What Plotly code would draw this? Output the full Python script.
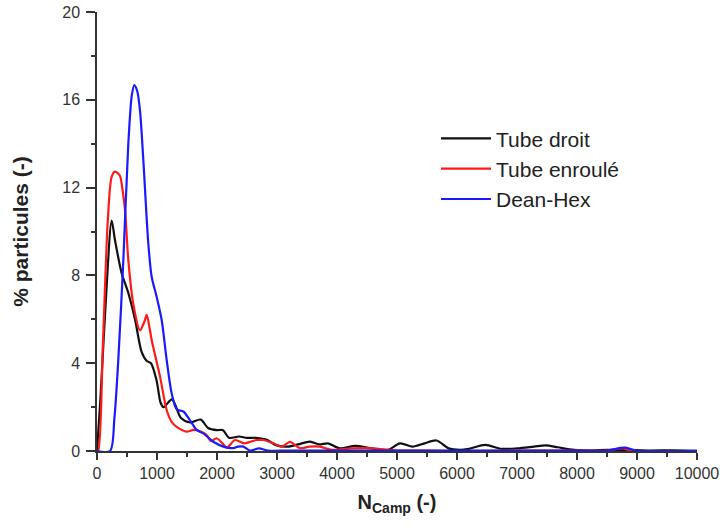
import plotly.graph_objects as go

# --- data ---
black_x = [0, 60, 150, 245, 300, 411, 522, 633, 745, 830, 900, 994, 1060, 1110, 1250, 1400,
           1550, 1730, 1850, 2000, 2100, 2200, 2367, 2500, 2650, 2840, 2970, 3170, 3350, 3550,
           3700, 3850, 4050, 4300, 4580, 4850, 5050, 5260, 5460, 5660, 5860, 6050, 6200, 6470,
           6740, 7000, 7280, 7480, 7680, 7950, 8200, 8500, 8800, 9200, 9600, 10000]
black_y = [0, 2.5, 7.0, 10.5, 9.6, 8.1, 7.2, 6.0, 4.5, 4.1, 4.0, 3.2, 2.2, 2.0, 2.35, 1.5,
           1.3, 1.43, 1.05, 0.95, 0.95, 0.6, 0.66, 0.6, 0.6, 0.5, 0.28, 0.2, 0.3, 0.43,
           0.3, 0.35, 0.12, 0.23, 0.12, 0.05, 0.35, 0.2, 0.35, 0.48, 0.12, 0.05, 0.1, 0.28,
           0.1, 0.12, 0.2, 0.26, 0.17, 0.05, 0.02, 0.05, 0.05, 0.02, 0.03, 0]

red_x = [0, 20, 100, 180, 245, 300, 380, 430, 467, 522, 605, 717, 790, 828, 870, 911, 1050,
         1161, 1250, 1328, 1494, 1606, 1717, 1828, 1900, 1994, 2106, 2165, 2300, 2450, 2570,
         2660, 2771, 2940, 3080, 3217, 3380, 3544, 3712, 3914, 4250, 4586, 5000, 5500, 6000,
         7000, 8000, 8500, 8760, 8900, 9500, 10000]
red_y = [0, 0, 5.0, 10.5, 12.5, 12.73, 12.55, 11.8, 11.0, 8.7, 6.7, 5.5, 5.9, 6.2, 5.7, 5.06, 3.4,
         1.87, 1.3, 1.1, 0.88, 0.96, 0.9, 0.73, 0.45, 0.58, 0.3, 0.15, 0.5, 0.35, 0.43,
         0.5, 0.5, 0.35, 0.2, 0.42, 0.13, 0.2, 0.2, 0.05, 0.12, 0.12, 0.02, 0.02, 0.0,
         0.02, 0.02, 0.02, 0.12, 0.02, 0.0, 0]

blue_x = [0, 217, 290, 355, 439, 522, 580, 622, 670, 717, 772, 855, 911, 994, 1078, 1161, 1244,
          1328, 1439, 1550, 1661, 1772, 1939, 2106, 2272, 2350, 2439, 2550, 2700, 2850, 3200,
          4000, 5000, 6000, 7000, 8000, 8500, 8790, 9000, 10000]
blue_y = [0, 0, 1.5, 4.15, 8.7, 14.0, 16.2, 16.67, 16.4, 15.5, 13.26, 9.46, 7.94, 7.03, 5.97, 4.15, 2.63,
          1.9, 1.8, 1.4, 0.96, 0.8, 0.42, 0.2, 0.13, 0.2, 0.2, 0.02, 0.12, 0.02, 0.02,
          0.02, 0.02, 0.02, 0.02, 0.02, 0.02, 0.15, 0.02, 0.02]

series_names = ["Tube droit", "Tube enroulé", "Dean-Hex"]
series_colors = ["#111111", "#ff1a1a", "#1a1aff"]

y_ticks = [0, 4, 8, 12, 16, 20]
x_ticks = [0, 1000, 2000, 3000, 4000, 5000, 6000, 7000, 8000, 9000, 10000]

FONT = "Liberation Sans, Arial, sans-serif"

fig = go.Figure()
for xs, ys, name, col in zip([black_x, red_x, blue_x], [black_y, red_y, blue_y],
                             series_names, series_colors):
    fig.add_trace(go.Scatter(x=xs, y=ys, mode="lines", name=name,
                             line=dict(color=col, width=2.2, shape="spline", smoothing=0.8)))

axis_common = dict(showline=True, linecolor="#333333", linewidth=1.5, ticks="outside",
                   tickcolor="#333333", tickwidth=1.5, showgrid=False, zeroline=False,
                   automargin=False, ticklabeloverflow="allow",
                   tickfont=dict(family=FONT, size=16, color="#333333"))

fig.update_layout(
    width=720, height=529,
    margin=dict(l=97, r=23, t=12, b=78),
    plot_bgcolor="white", paper_bgcolor="white",
    xaxis=dict(range=[0, 10000], tickvals=x_ticks, ticktext=[str(v) for v in x_ticks], ticklen=7,
               minor=dict(dtick=500, ticks="outside", ticklen=4, tickcolor="#333333", tickwidth=1.5),
               title=dict(text="<b>N<sub>Camp</sub> (-)</b>", font=dict(family=FONT, size=20, color="#222222"),
                          standoff=14),
               **axis_common),
    yaxis=dict(range=[0, 20], tickvals=y_ticks, ticktext=[str(v) for v in y_ticks], ticklen=9,
               ticklabelstandoff=3,
               minor=dict(dtick=2, ticks="outside", ticklen=4, tickcolor="#333333", tickwidth=1.5),
               title=dict(text="<b>% particules (-)</b>", font=dict(family=FONT, size=21, color="#222222"),
                          standoff=28),
               **axis_common),
    legend=dict(x=0.565, y=0.758, xanchor="left", yanchor="top", bgcolor="rgba(0,0,0,0)",
                font=dict(family=FONT, size=21, color="#222222"), itemwidth=50,
                tracegroupgap=0),
    showlegend=True,
)

fig.write_html("out.html", config={"displayModeBar": False},
               post_script="document.body.style.margin='0px';")
